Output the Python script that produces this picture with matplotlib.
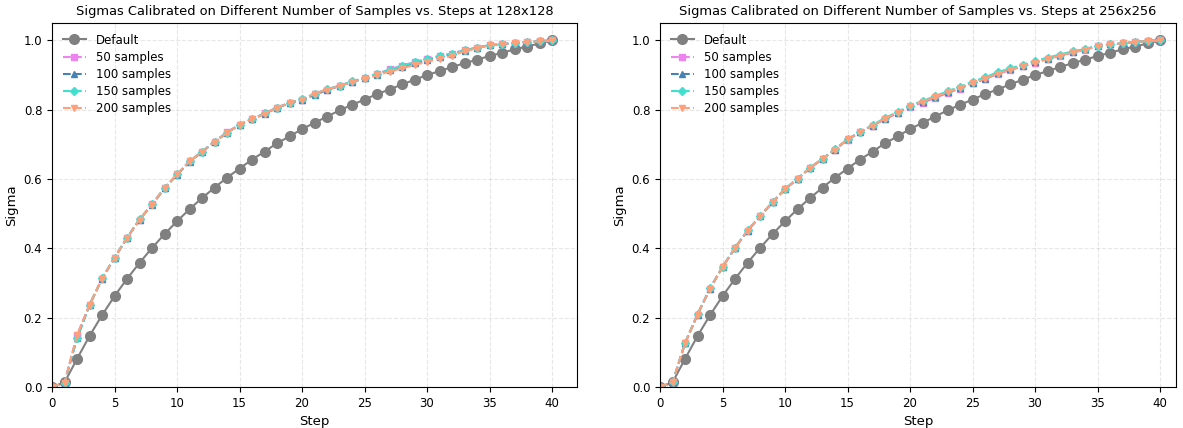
import numpy as np
import matplotlib
matplotlib.use("Agg")
import matplotlib.pyplot as plt

steps = np.arange(0, 41)

default_sigmas = [0.0, 0.013, 0.081, 0.147, 0.207, 0.262, 0.312, 0.358, 0.401, 0.441,
                  0.478, 0.513, 0.545, 0.575, 0.604, 0.630, 0.656, 0.679, 0.703, 0.723,
                  0.744, 0.762, 0.780, 0.798, 0.814, 0.829, 0.845, 0.858, 0.873, 0.886,
                  0.900, 0.911, 0.923, 0.934, 0.944, 0.955, 0.964, 0.974, 0.982, 0.991,
                  1.0]

# 128x128
s128_50 = [0.0, 0.012, 0.149, 0.237, 0.312, 0.372, 0.430, 0.483, 0.527, 0.574,
           0.613, 0.651, 0.679, 0.708, 0.735, 0.757, 0.773, 0.789, 0.806, 0.819,
           0.828, 0.845, 0.858, 0.869, 0.881, 0.891, 0.903, 0.916, 0.927, 0.937,
           0.946, 0.955, 0.962, 0.972, 0.979, 0.986, 0.989, 0.993, 0.995, 0.997,
           1.0]
s128_100 = [0.0, 0.012, 0.140, 0.236, 0.312, 0.373, 0.430, 0.483, 0.525, 0.573,
            0.612, 0.650, 0.678, 0.707, 0.733, 0.757, 0.772, 0.788, 0.805, 0.819,
            0.829, 0.842, 0.857, 0.868, 0.880, 0.890, 0.901, 0.914, 0.924, 0.934,
            0.943, 0.952, 0.960, 0.970, 0.978, 0.986, 0.988, 0.993, 0.995, 0.997,
            1.0]
s128_150 = [0.0, 0.012, 0.142, 0.237, 0.313, 0.373, 0.431, 0.484, 0.527, 0.574,
            0.613, 0.651, 0.679, 0.708, 0.734, 0.757, 0.773, 0.789, 0.806, 0.820,
            0.831, 0.846, 0.859, 0.869, 0.882, 0.892, 0.903, 0.915, 0.926, 0.937,
            0.946, 0.955, 0.962, 0.971, 0.979, 0.986, 0.989, 0.993, 0.995, 0.997,
            1.0]
s128_200 = [0.0, 0.012, 0.149, 0.237, 0.312, 0.372, 0.430, 0.483, 0.526, 0.574,
            0.613, 0.651, 0.678, 0.707, 0.733, 0.757, 0.772, 0.788, 0.805, 0.820,
            0.829, 0.846, 0.858, 0.868, 0.880, 0.889, 0.899, 0.910, 0.919, 0.929,
            0.938, 0.947, 0.955, 0.969, 0.977, 0.986, 0.988, 0.993, 0.995, 0.997,
            1.0]

# 256x256
s256_50 = [0.0, 0.013, 0.126, 0.209, 0.284, 0.346, 0.401, 0.451, 0.492, 0.533,
           0.571, 0.600, 0.632, 0.658, 0.685, 0.713, 0.735, 0.754, 0.773, 0.790,
           0.808, 0.820, 0.834, 0.848, 0.861, 0.876, 0.888, 0.903, 0.914, 0.925,
           0.936, 0.946, 0.956, 0.965, 0.973, 0.983, 0.988, 0.991, 0.995, 0.998,
           1.0]
s256_100 = [0.0, 0.013, 0.126, 0.209, 0.284, 0.346, 0.401, 0.451, 0.492, 0.533,
            0.571, 0.600, 0.632, 0.658, 0.685, 0.714, 0.735, 0.754, 0.774, 0.791,
            0.810, 0.823, 0.836, 0.850, 0.863, 0.878, 0.889, 0.905, 0.916, 0.926,
            0.937, 0.947, 0.957, 0.966, 0.974, 0.984, 0.988, 0.991, 0.995, 0.998,
            1.0]
s256_150 = [0.0, 0.013, 0.127, 0.210, 0.285, 0.347, 0.402, 0.452, 0.493, 0.534,
            0.572, 0.601, 0.633, 0.659, 0.686, 0.715, 0.736, 0.756, 0.776, 0.793,
            0.812, 0.825, 0.839, 0.853, 0.866, 0.881, 0.893, 0.908, 0.919, 0.929,
            0.940, 0.950, 0.959, 0.968, 0.975, 0.984, 0.988, 0.991, 0.995, 0.998,
            1.0]
s256_200 = [0.0, 0.013, 0.126, 0.209, 0.284, 0.346, 0.401, 0.451, 0.492, 0.533,
            0.571, 0.600, 0.632, 0.658, 0.685, 0.714, 0.735, 0.754, 0.774, 0.791,
            0.810, 0.823, 0.836, 0.850, 0.863, 0.878, 0.889, 0.904, 0.915, 0.925,
            0.936, 0.946, 0.956, 0.965, 0.973, 0.983, 0.988, 0.991, 0.995, 0.998,
            1.0]

sample_counts = [50, 100, 150, 200]
styles = [("violet", "s"), ("steelblue", "^"), ("turquoise", "D"), ("lightsalmon", "v")]

panels = [("128x128", [s128_50, s128_100, s128_150, s128_200]),
          ("256x256", [s256_50, s256_100, s256_150, s256_200])]

fig = plt.figure(figsize=(11.83, 4.28), dpi=100)
axes = [fig.add_axes([52/1183, 41/428, 525/1183, 364/428]),
        fig.add_axes([660/1183, 41/428, 516/1183, 364/428])]
xmax = [42, 41.28]

for ax, (res, series), xm in zip(axes, panels, xmax):
    ax.plot(steps, default_sigmas, color="gray", marker="o", markersize=7,
            linewidth=1.5, label="Default")
    for n, vals, (c, m) in zip(sample_counts, series, styles):
        ax.plot(steps, vals, color=c, marker=m, markersize=4, linestyle="--",
                linewidth=1.5, label=f"{n} samples")
    ax.set_title(f"Sigmas Calibrated on Different Number of Samples vs. Steps at {res}", fontsize=9.4)
    ax.set_xlabel("Step", fontsize=9.5)
    ax.set_ylabel("Sigma", fontsize=9.5)
    ax.set_xlim(0, xm)
    ax.set_ylim(0, 1.05)
    ax.grid(True, linestyle="--", alpha=0.3)
    ax.tick_params(labelsize=8.5)
    ax.legend(loc="upper left", fontsize=8.5, frameon=False, labelspacing=0.35)

fig.savefig("out.png", dpi=100)
